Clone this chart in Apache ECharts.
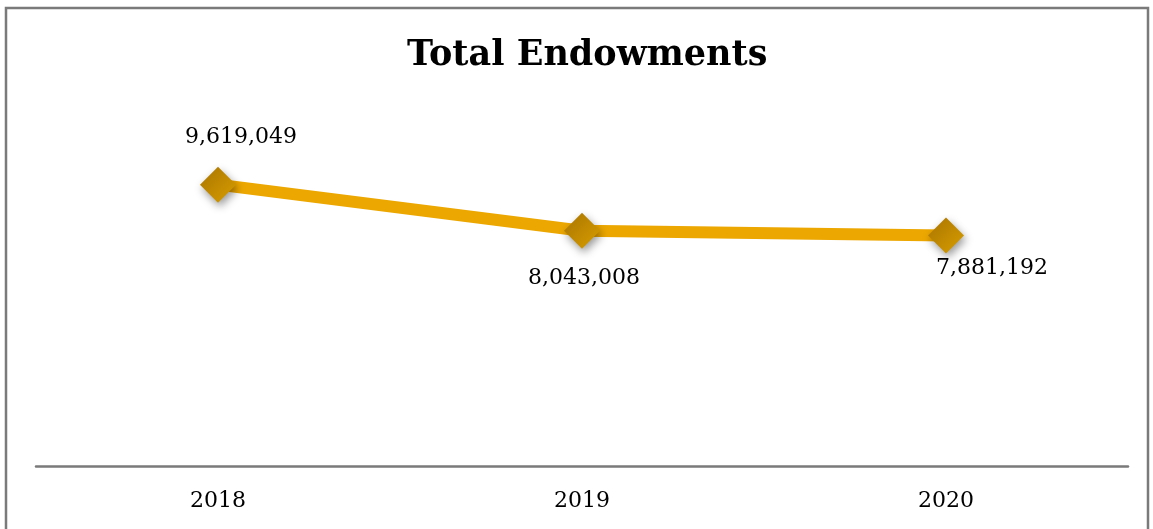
<!DOCTYPE html>
<html>
<head>
<meta charset="utf-8">
<script src="https://cdn.jsdelivr.net/npm/echarts@6/dist/echarts.min.js"></script>
<style>
  html, body { margin: 0; padding: 0; background: #fff; }
  #main { width: 1153px; height: 529px; }
</style>
</head>
<body>
<div id="main"></div>
<script>
    // data
    var years = ['2018', '2019', '2020'];
    var endowments = [9619049, 8043008, 7881192];

    var serif = '"DejaVu Serif", "Liberation Serif", serif';

    var myChart = echarts.init(document.getElementById('main'));

    // per point label placement, like the original
    var labelPos = [
        { position: 'top', offset: [23, -13] },
        { position: 'bottom', offset: [2, 14] },
        { position: 'bottom', offset: [46, -1] }
    ];

    myChart.setOption({
        animation: false,
        title: {
            text: 'Total Endowments',
            left: 402,
            top: 33,
            textStyle: { fontFamily: serif, fontSize: 35, fontWeight: 'bold', color: '#000' }
        },
        graphic: [{
            type: 'rect',
            shape: { x: 6, y: 8, width: 1142, height: 540 },
            style: { fill: 'none', stroke: '#7a7a7a', lineWidth: 2.5 }
        }],
        grid: { left: 36, right: 25, top: 115, bottom: 63 },
        xAxis: {
            type: 'category',
            data: years,
            boundaryGap: true,
            axisLine: { lineStyle: { color: '#7a7a7a', width: 2.5 } },
            axisTick: { show: false },
            axisLabel: { fontFamily: serif, fontSize: 22, color: '#000', margin: 24 }
        },
        yAxis: {
            type: 'value',
            min: 0,
            max: 12000000,
            show: false,
            splitLine: { show: false }
        },
        series: [{
            type: 'line',
            data: endowments.map(function (v, i) {
                return { value: v, label: labelPos[i] };
            }),
            symbol: 'diamond',
            symbolSize: 36,
            lineStyle: { color: '#ECA700', width: 12 },
            itemStyle: {
                color: new echarts.graphic.LinearGradient(0, 0, 1, 1, [
                    { offset: 0, color: '#A97400' },
                    { offset: 1, color: '#D89E00' }
                ]),
                shadowBlur: 9,
                shadowOffsetX: 2,
                shadowOffsetY: 4,
                shadowColor: 'rgba(0,0,0,0.4)'
            },
            label: {
                show: true,
                fontFamily: serif,
                fontSize: 22,
                color: '#000',
                formatter: function (p) { return p.value.toLocaleString('en-US'); }
            }
        }]
    });
</script>
</body>
</html>
